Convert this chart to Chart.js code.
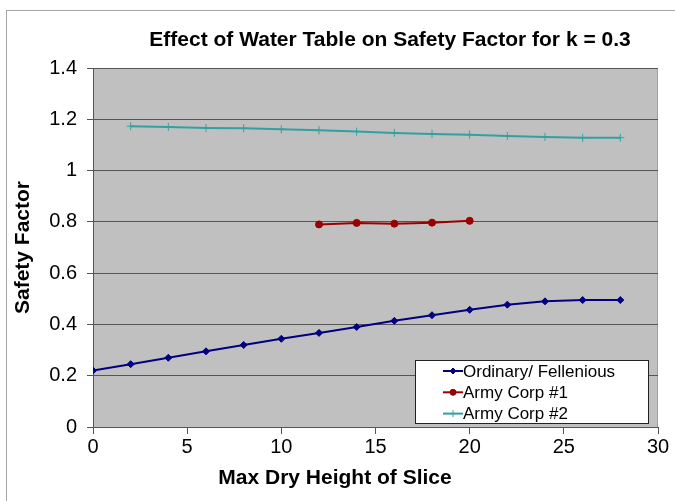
<!DOCTYPE html>
<html lang="en">
<head>
<meta charset="UTF-8">
<title>Effect of Water Table on Safety Factor</title>
<script src="https://cdn.jsdelivr.net/npm/chart.js"></script>
<style>
  body { margin: 0; background: #fff; overflow: hidden; }
  #frame { position: absolute; left: 6px; top: 10px; width: 720px; height: 560px; border: 1px solid #a6a6a6; }
  #graf { position: absolute; left: 0; top: 0; }
</style>
</head>
<body>
<div id="frame"></div>
<canvas id="graf" width="675" height="501"></canvas>
<script>
const chartTitle = "Effect of Water Table on Safety Factor for k = 0.3";
const xTitle = "Max Dry Height of Slice";
const yTitle = "Safety Factor";

const seriesNames = ["Ordinary/ Fellenious", "Army Corp #1", "Army Corp #2"];

const xOrdinary = [0, 2, 4, 6, 8, 10, 12, 14, 16, 18, 20, 22, 24, 26, 28];
const ordinary = [0.22, 0.245, 0.27, 0.295, 0.32, 0.344, 0.367, 0.39, 0.414, 0.436, 0.457, 0.477, 0.49, 0.495, 0.495];

const xArmy1 = [12, 14, 16, 18, 20];
const army1 = [0.79, 0.796, 0.793, 0.797, 0.804];

const xArmy2 = [2, 4, 6, 8, 10, 12, 14, 16, 18, 20, 22, 24, 26, 28];
const army2 = [1.173, 1.17, 1.166, 1.165, 1.161, 1.157, 1.152, 1.147, 1.143, 1.14, 1.135, 1.131, 1.128, 1.128];

const xTicks = [0, 5, 10, 15, 20, 25, 30];
const yTicks = [0, 0.2, 0.4, 0.6, 0.8, 1, 1.2, 1.4];

const fuente = "'Liberation Sans', Arial, sans-serif";

function puntos(xs, ys) {
    return xs.map((x, i) => ({ x: x, y: ys[i] }));
}

// fondo gris del area de trazado
const fondo = {
    id: "fondo",
    beforeDraw(chart) {
        const a = chart.chartArea;
        const ctx = chart.ctx;
        ctx.save();
        ctx.fillStyle = "#c0c0c0";
        ctx.fillRect(a.left, a.top, a.right - a.left, a.bottom - a.top);
        ctx.strokeStyle = "#a0a0a0";
        ctx.lineWidth = 1;
        ctx.beginPath();
        ctx.moveTo(a.left, a.top + 0.5);
        ctx.lineTo(a.right - 0.5, a.top + 0.5);
        ctx.lineTo(a.right - 0.5, a.bottom);
        ctx.stroke();
        ctx.restore();
    }
};

// titulos: en el original no van centrados sobre el eje
const titulos = {
    id: "titulos",
    afterDraw(chart) {
        const ctx = chart.ctx;
        ctx.save();
        ctx.font = "bold 21px " + fuente;
        ctx.fillStyle = "#000";
        ctx.textAlign = "center";
        ctx.textBaseline = "middle";
        ctx.fillText(chartTitle, 390, 40);
        ctx.fillText(xTitle, 335, 478);
        ctx.restore();
    }
};

// leyenda dentro del area de trazado
const leyenda = {
    id: "leyenda",
    afterDatasetsDraw(chart) {
        const ctx = chart.ctx;
        const bx = 415, by = 360, bw = 234, bh = 64;
        ctx.save();
        ctx.fillStyle = "#fff";
        ctx.fillRect(bx, by, bw, bh);
        ctx.strokeStyle = "#222";
        ctx.lineWidth = 1;
        ctx.strokeRect(bx + 0.5, by + 0.5, bw - 1, bh - 1);
        ctx.font = "17px " + fuente;
        ctx.textBaseline = "middle";
        chart.data.datasets.forEach((ds, i) => {
            const y = by + 11 + i * 21.3;
            ctx.strokeStyle = ds.borderColor;
            ctx.lineWidth = 2;
            ctx.beginPath();
            ctx.moveTo(443, y);
            ctx.lineTo(463, y);
            ctx.stroke();
            ctx.fillStyle = ds.pointBackgroundColor;
            ctx.strokeStyle = ds.pointBorderColor;
            ctx.lineWidth = 1;
            Chart.helpers.drawPoint(ctx, {
                pointStyle: ds.pointStyle,
                radius: ds.pointRadius - 0.5,
                borderWidth: 1,
                rotation: 0
            }, 453, y);
            ctx.fillStyle = "#000";
            ctx.fillText(ds.label, 463, y + 1);
        });
        ctx.restore();
    }
};

const ctx = document.getElementById("graf").getContext("2d");

window.myChart = new Chart(ctx, {
    type: "scatter",
    data: {
        datasets: [{
            label: seriesNames[0],
            data: puntos(xOrdinary, ordinary),
            showLine: true,
            borderColor: "#000080",
            backgroundColor: "#000080",
            pointBackgroundColor: "#000080",
            pointBorderColor: "#000080",
            borderWidth: 2,
            pointStyle: "rectRot",
            pointRadius: 3.5,
            pointBorderWidth: 1
        }, {
            label: seriesNames[1],
            data: puntos(xArmy1, army1),
            showLine: true,
            borderColor: "#9a0000",
            backgroundColor: "#9a0000",
            pointBackgroundColor: "#9a0000",
            pointBorderColor: "#9a0000",
            borderWidth: 2,
            pointStyle: "circle",
            pointRadius: 3.5,
            pointBorderWidth: 1
        }, {
            label: seriesNames[2],
            data: puntos(xArmy2, army2),
            showLine: true,
            borderColor: "#33a0a0",
            backgroundColor: "#33a0a0",
            pointBackgroundColor: "#33a0a0",
            pointBorderColor: "#33a0a0",
            borderWidth: 2,
            pointStyle: "cross",
            pointRadius: 4,
            pointBorderWidth: 1
        }]
    },
    options: {
        responsive: false,
        animation: false,
        layout: { padding: { left: 0, right: 17, top: 68, bottom: 0 } },
        plugins: {
            legend: { display: false },
            title: { display: false },
            tooltip: { enabled: false }
        },
        scales: {
            x: {
                type: "linear",
                min: 0,
                max: 30,
                afterBuildTicks: s => { s.ticks = xTicks.map(v => ({ value: v })); },
                afterFit: s => { s.height = 74; },
                ticks: { color: "#000", font: { family: fuente, size: 20 }, padding: 1, maxRotation: 0 },
                grid: { drawOnChartArea: false, drawTicks: true, tickLength: 7, color: "#555" },
                border: { color: "#555", width: 1 },
                title: { display: false }
            },
            y: {
                type: "linear",
                min: 0,
                max: 1.4,
                afterBuildTicks: s => { s.ticks = yTicks.map(v => ({ value: v })); },
                afterFit: s => { s.width = 93; },
                ticks: { color: "#000", font: { family: fuente, size: 20 }, padding: 10, callback: v => String(+v.toFixed(1)) },
                grid: { drawTicks: true, tickLength: 6, color: "#555" },
                border: { color: "#555", width: 1 },
                title: { display: true, text: yTitle, color: "#000", font: { family: fuente, size: 21, weight: "bold" }, padding: { top: 11, bottom: 0 } }
            }
        }
    },
    plugins: [fondo, titulos, leyenda]
});
</script>
</body>
</html>
